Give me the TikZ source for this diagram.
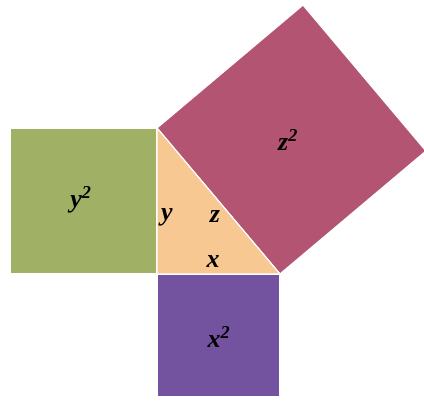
\documentclass[tikz,border=0pt]{standalone}
\usepackage{fontspec}
\setmainfont{Liberation Serif}
\usepackage{tikz}
\usetikzlibrary{calc}
\definecolor{ysqcolor}{HTML}{A0B064}
\definecolor{zsqcolor}{HTML}{B35473}
\definecolor{xsqcolor}{HTML}{7353A0}
\definecolor{tricolor}{HTML}{F8C892}

\begin{document}
\begin{tikzpicture}[
    x=1pt, y=-1pt,
    sq/.style={draw=white, line width=1.2pt, line join=miter},
    lbl/.style={font=\fontsize{26}{30}\selectfont\bfseries\itshape, inner sep=0pt}
]
    \clip (0,0) rectangle (424,401);
    \useasboundingbox (0,0) rectangle (424,401);
    % --- triangle corners ---
    \coordinate (A) at (157,128);
    \coordinate (C) at (157,274);
    \coordinate (B) at (280,274);
    % --- squares on the legs and the hypotenuse ---
    \filldraw[sq, fill=ysqcolor] (10,128) rectangle (C);
    \filldraw[sq, fill=xsqcolor] (C) rectangle (280,397);
    \filldraw[sq, fill=zsqcolor] (A) -- (B) -- ($(B)+(146,-123)$) -- ($(A)+(146,-123)$) -- cycle;
    \filldraw[sq, fill=tricolor] (A) -- (C) -- (B) -- cycle;
    % --- labels ---
    \node[lbl] (ysq) at (81,200) {y\textsuperscript{2}};
    \node[lbl] (zsq) at (288,140) {z\textsuperscript{2}};
    \node[lbl] (xsq) at (219,337) {x\textsuperscript{2}};
    \node[lbl] (yleg) at (167,217) {y};
    \node[lbl] (zhyp) at (215,217) {z};
    \node[lbl] (xleg) at (213,262) {x};
\end{tikzpicture}
\end{document}
